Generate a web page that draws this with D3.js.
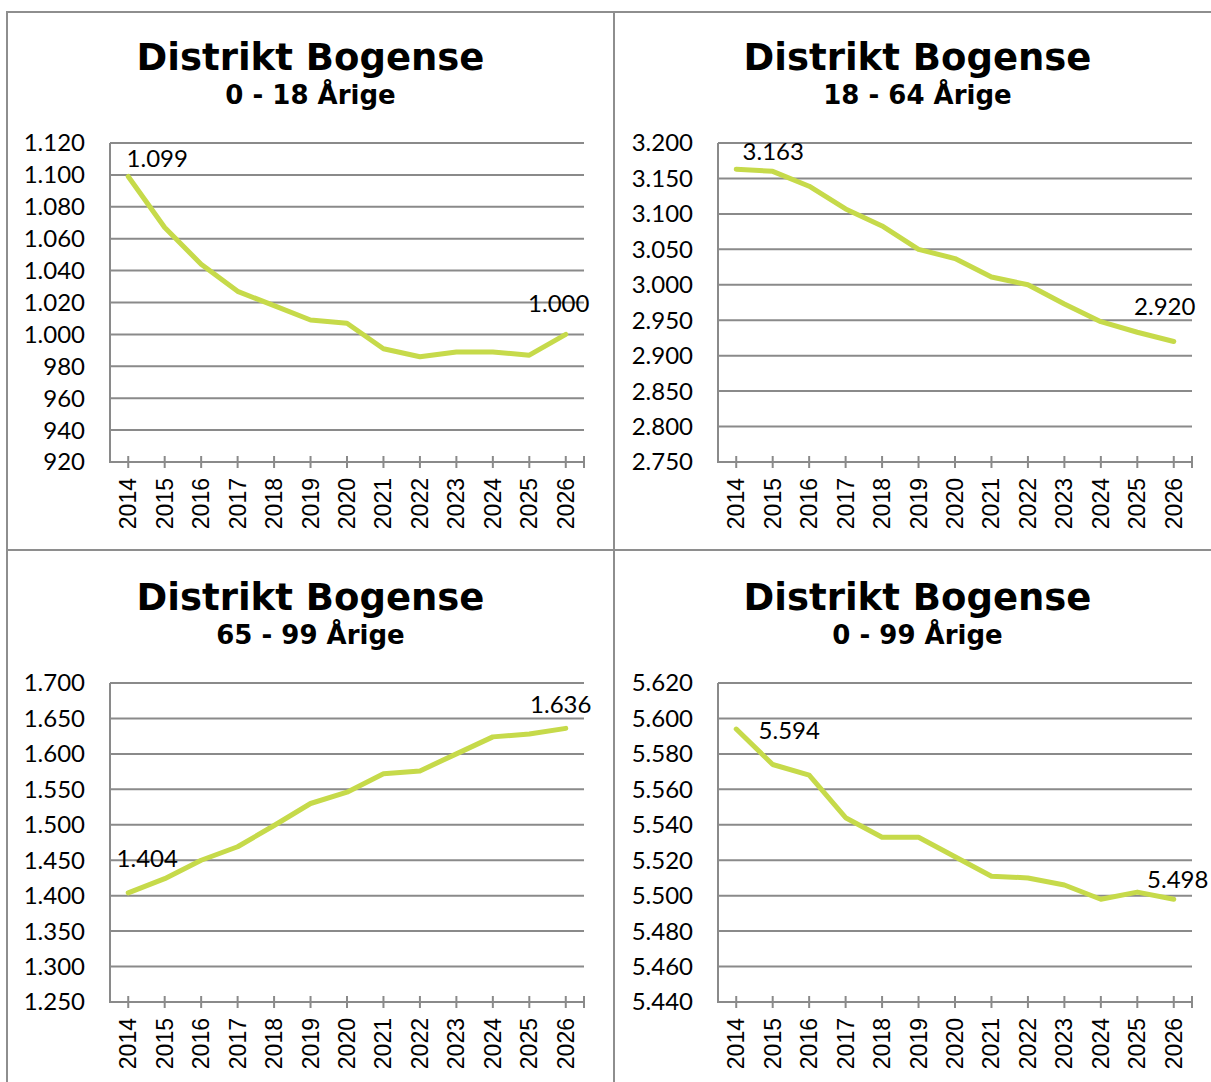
<!DOCTYPE html>
<html lang="da">
<head>
  <meta charset="UTF-8">
  <title>Distrikt Bogense</title>
  <script src="https://d3js.org/d3.v7.min.js"></script>
  <style>
    body { margin: 0; background: #fff; }
    svg { display: block; background: #fff; }
    .frame { fill: none; stroke: #8e8e8e; stroke-width: 2px; }
    .title { font-family: "DejaVu Sans", sans-serif; font-weight: bold; font-size: 37px; text-anchor: middle; fill: #000; }
    .subtitle { font-family: "DejaVu Sans", sans-serif; font-weight: bold; font-size: 26px; text-anchor: middle; fill: #000; }
    .grid { stroke: #8a8a8a; stroke-width: 2px; }
    .axis-line { stroke: #8a8a8a; stroke-width: 2px; }
    .tick { stroke: #8a8a8a; stroke-width: 2px; }
    .ylabel { font-family: Lato, "Open Sans", sans-serif; font-size: 24px; text-anchor: end; fill: #000; }
    .xlabel { font-family: "Liberation Sans", Arial, sans-serif; font-size: 23px; text-anchor: end; fill: #000; }
    .vlabel { font-family: Lato, "Open Sans", sans-serif; font-size: 24px; text-anchor: middle; fill: #000; }
    .series { fill: none; stroke: #c6da4a; stroke-width: 5px; stroke-linejoin: round; stroke-linecap: round; }
  </style>
</head>
<body>
  <svg id="chart" width="1211" height="1082"></svg>

  <script>
    const width = 1211, height = 1082;

    // data
    const years = ["2014", "2015", "2016", "2017", "2018", "2019", "2020",
                   "2021", "2022", "2023", "2024", "2025", "2026"];
    const title = "Distrikt Bogense";
    const subtitles = ["0 - 18 Årige", "18 - 64 Årige", "65 - 99 Årige", "0 - 99 Årige"];

    const age0to18  = [1099, 1067, 1044, 1027, 1018, 1009, 1007, 991, 986, 989, 989, 987, 1000];
    const age18to64 = [3163, 3160, 3139, 3107, 3083, 3050, 3037, 3011, 3000, 2973, 2948, 2933, 2920];
    const age65to99 = [1404, 1424, 1450, 1469, 1499, 1530, 1546, 1572, 1576, 1600, 1624, 1628, 1636];
    const age0to99  = [5594, 5574, 5568, 5544, 5533, 5533, 5522, 5511, 5510, 5506, 5498, 5502, 5498];
    const series = [age0to18, age18to64, age65to99, age0to99];

    // y axis: [min, max, step]
    const yAxes = [
      [920, 1120, 20],
      [2750, 3200, 50],
      [1250, 1700, 50],
      [5440, 5620, 20]
    ];

    // layout
    const panels = [
      { x: 7,   y: 12,  plotLeft: 110, plotTop: 143 },
      { x: 614, y: 12,  plotLeft: 718, plotTop: 143 },
      { x: 7,   y: 550, plotLeft: 110, plotTop: 683 },
      { x: 614, y: 550, plotLeft: 718, plotTop: 683 }
    ];
    const panelW = 607, panelH = 538;
    const plotW = 474, plotH = 319;
    // offsets of the first / last value labels from their points
    const labelOffsets = [
      [[29, -9], [-7, -22]],
      [[37, -9], [-9, -26]],
      [[19, -26], [-5, -15]],
      [[53, 10], [4, -11]]
    ];

    const da = d3.formatLocale({ decimal: ",", thousands: ".", grouping: [3], currency: ["", " kr."] });
    const fmt = da.format(",d");

    const svg = d3.select('#chart');

    panels.forEach((p, i) => {
      const g = svg.append('g');

      g.append('rect')
        .attr('class', 'frame')
        .attr('x', p.x).attr('y', p.y)
        .attr('width', panelW).attr('height', panelH);

      const cx = p.x + panelW / 2;
      g.append('text').attr('class', 'title')
        .attr('x', cx).attr('y', p.plotTop - 73)
        .text(title);
      g.append('text').attr('class', 'subtitle')
        .attr('x', cx).attr('y', p.plotTop - 39)
        .text(subtitles[i]);

      const [lo, hi, step] = yAxes[i];
      const yScale = d3.scaleLinear().domain([lo, hi]).range([p.plotTop + plotH, p.plotTop]);
      const xScale = d3.scaleBand().domain(years)
        .range([p.plotLeft, p.plotLeft + plotW]).padding(0);
      const xc = d => xScale(d) + xScale.bandwidth() / 2;

      const ticks = d3.range(lo, hi + step / 2, step);

      // gridlines
      g.selectAll('line.grid').data(ticks.slice(1)).enter().append('line')
        .attr('class', 'grid')
        .attr('x1', p.plotLeft).attr('x2', p.plotLeft + plotW)
        .attr('y1', d => yScale(d)).attr('y2', d => yScale(d));

      // y labels
      g.selectAll('text.ylabel').data(ticks).enter().append('text')
        .attr('class', 'ylabel')
        .attr('x', p.plotLeft - 25)
        .attr('y', d => yScale(d))
        .attr('dy', '0.35em')
        .text(d => fmt(d));

      // axes
      g.append('line').attr('class', 'axis-line')
        .attr('x1', p.plotLeft).attr('x2', p.plotLeft)
        .attr('y1', p.plotTop).attr('y2', p.plotTop + plotH);
      g.append('line').attr('class', 'axis-line')
        .attr('x1', p.plotLeft - 1).attr('x2', p.plotLeft + plotW)
        .attr('y1', p.plotTop + plotH).attr('y2', p.plotTop + plotH);

      const tickXs = years.map(xc).concat([p.plotLeft + plotW]);
      g.selectAll('line.tick').data(tickXs).enter().append('line')
        .attr('class', 'tick')
        .attr('x1', d => d).attr('x2', d => d)
        .attr('y1', p.plotTop + plotH - 6).attr('y2', p.plotTop + plotH + 6);

      // x labels
      g.selectAll('text.xlabel').data(years).enter().append('text')
        .attr('class', 'xlabel')
        .attr('transform', d => `translate(${xc(d) + 8},${p.plotTop + plotH + 16}) rotate(-90)`)
        .text(d => d);

      // series line
      const vals = series[i];
      const line = d3.line()
        .x((d, j) => xc(years[j]))
        .y(d => yScale(d));
      g.append('path').attr('class', 'series').attr('d', line(vals));

      // first and last value labels
      [0, vals.length - 1].forEach((j, k) => {
        const [dx, dy] = labelOffsets[i][k];
        g.append('text').attr('class', 'vlabel')
          .attr('x', xc(years[j]) + dx)
          .attr('y', yScale(vals[j]) + dy)
          .text(fmt(vals[j]));
      });
    });
  </script>
</body>
</html>
